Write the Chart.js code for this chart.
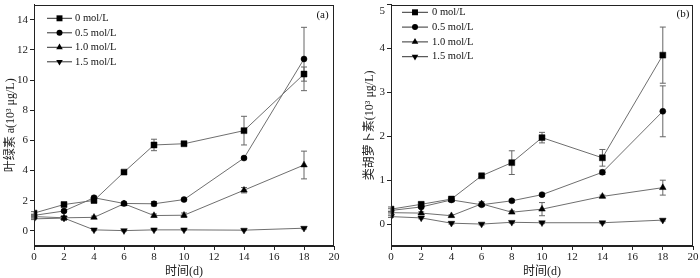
<!DOCTYPE html>
<html>
<head>
<meta charset="utf-8">
<script src="https://cdn.jsdelivr.net/npm/chart.js@4.4.1/dist/chart.umd.min.js"></script>
<style>
    body { margin: 0; background: #fff; }
    .wrap { display: flex; width: 700px; height: 278px; }
    canvas { display: block; }
</style>
</head>
<body>
<div class="wrap">
    <canvas id="chart-a" width="350" height="278"></canvas>
    <canvas id="chart-b" width="350" height="278"></canvas>
</div>
<script>
const days = [0, 2, 4, 6, 8, 10, 14, 18];
const seriesNames = ['0 mol/L', '0.5 mol/L', '1.0 mol/L', '1.5 mol/L'];

// (a) chlorophyll a
const chl0 = [1.18, 1.75, 2.02, 3.9, 5.7, 5.78, 6.65, 10.4];
const chl05 = [1.03, 1.32, 2.2, 1.82, 1.8, 2.08, 4.83, 11.4];
const chl10 = [0.95, 0.87, 0.9, 1.8, 1.02, 1.04, 2.7, 4.37];
const chl15 = [0.8, 0.85, 0.07, 0.02, 0.07, 0.07, 0.05, 0.18];
const chl0Err = [0.1, 0.08, 0.15, 0.08, 0.38, 0.08, 0.95, 0.47];
const chl05Err = [0.08, 0.08, 0.1, 0.08, 0.15, 0.08, 0.08, 2.1];
const chl10Err = [0.08, 0.08, 0.08, 0.1, 0.1, 0.15, 0.18, 0.92];
const chl15Err = [0.05, 0.15, 0.05, 0.03, 0.03, 0.03, 0.03, 0.05];

// (b) carotenoids
const car0 = [0.34, 0.45, 0.57, 1.1, 1.4, 1.97, 1.51, 3.85];
const car05 = [0.31, 0.39, 0.55, 0.44, 0.53, 0.67, 1.18, 2.57];
const car10 = [0.26, 0.25, 0.19, 0.46, 0.27, 0.34, 0.63, 0.83];
const car15 = [0.17, 0.14, 0.02, 0.0, 0.04, 0.03, 0.03, 0.09];
const car0Err = [0.05, 0.04, 0.03, 0.03, 0.27, 0.12, 0.19, 0.64];
const car05Err = [0.04, 0.03, 0.03, 0.03, 0.03, 0.03, 0.05, 0.58];
const car10Err = [0.03, 0.03, 0.02, 0.05, 0.03, 0.15, 0.03, 0.17];
const car15Err = [0.02, 0.02, 0.02, 0.02, 0.02, 0.02, 0.02, 0.02];

const dayTicks = [0, 2, 4, 6, 8, 10, 12, 14, 16, 18, 20];
const chlTicks = [0, 2, 4, 6, 8, 10, 12, 14];
const carTicks = [0, 1, 2, 3, 4, 5];

const serif = "'Liberation Serif', 'Times New Roman', serif";
const cjk = "'Liberation Serif', 'Noto Sans CJK SC', serif";
const lineGray = '#6f6f6f';
const markers = [
    { pointStyle: 'rect', radius: 4.2, rotation: 0 },
    { pointStyle: 'circle', radius: 3, rotation: 0 },
    { pointStyle: 'triangle', radius: 3.8, rotation: 0 },
    { pointStyle: 'triangle', radius: 3.8, rotation: 180 }
];

function buildDatasets(values, errors) {
    return values.map(function(vals, i) {
        return {
            label: seriesNames[i],
            data: days.map(function(d, j) { return { x: d, y: vals[j] }; }),
            errorBars: errors[i],
            borderColor: lineGray,
            borderWidth: 1,
            pointStyle: markers[i].pointStyle,
            pointRadius: markers[i].radius,
            pointRotation: markers[i].rotation,
            pointBackgroundColor: '#000',
            pointBorderColor: '#000',
            pointBorderWidth: 0.5,
            tension: 0
        };
    });
}

const errorBarPlugin = {
    id: 'errorBars',
    beforeDatasetsDraw(chart) {
        const ctx = chart.ctx;
        const yScale = chart.scales.y;
        ctx.save();
        ctx.strokeStyle = '#666';
        ctx.lineWidth = 1;
        chart.data.datasets.forEach(function(ds, i) {
            const meta = chart.getDatasetMeta(i);
            meta.data.forEach(function(pt, j) {
                const err = ds.errorBars[j];
                if (!err) return;
                const v = ds.data[j].y;
                const top = yScale.getPixelForValue(v + err);
                const bot = yScale.getPixelForValue(v - err);
                ctx.beginPath();
                ctx.moveTo(pt.x, top);
                ctx.lineTo(pt.x, bot);
                ctx.moveTo(pt.x - 3, top);
                ctx.lineTo(pt.x + 3, top);
                ctx.moveTo(pt.x - 3, bot);
                ctx.lineTo(pt.x + 3, bot);
                ctx.stroke();
            });
        });
        ctx.restore();
    }
};

const framePlugin = {
    id: 'frameAndLegend',
    afterDraw(chart, args, opts) {
        const ctx = chart.ctx;
        const area = chart.chartArea;
        ctx.save();
        ctx.strokeStyle = '#222';
        ctx.lineWidth = 1;
        ctx.strokeRect(Math.round(area.left) + 0.5, Math.round(area.top) + 0.5,
            Math.round(area.right - area.left) - 1, Math.round(area.bottom - area.top) - 1);

        // legend
        ctx.font = '10.5px ' + serif;
        ctx.textBaseline = 'middle';
        ctx.textAlign = 'left';
        chart.data.datasets.forEach(function(ds, i) {
            const y = opts.legendY + i * opts.legendGap;
            ctx.strokeStyle = '#333';
            ctx.beginPath();
            ctx.moveTo(opts.legendX1, y);
            ctx.lineTo(opts.legendX2, y);
            ctx.stroke();
            ctx.fillStyle = '#000';
            ctx.strokeStyle = '#000';
            Chart.helpers.drawPoint(ctx, {
                pointStyle: markers[i].pointStyle,
                radius: markers[i].radius,
                rotation: markers[i].rotation,
                borderWidth: 0
            }, (opts.legendX1 + opts.legendX2) / 2, y);
            ctx.fillStyle = '#111';
            ctx.fillText(ds.label, opts.legendTextX, y);
        });

        ctx.font = '11px ' + serif;
        ctx.textAlign = 'center';
        ctx.fillText(opts.panelLabel, opts.panelX, opts.panelY);
        ctx.restore();
    }
};

function makeChart(id, values, errors, yMin, yMax, yTicks, yTitle, layout) {
    return new Chart(document.getElementById(id), {
        type: 'line',
        data: { datasets: buildDatasets(values, errors) },
        plugins: [errorBarPlugin, framePlugin],
        options: {
            responsive: false,
            animation: false,
            layout: { padding: { left: 0, right: layout.right, top: layout.top, bottom: 0 } },
            plugins: {
                legend: { display: false },
                tooltip: { enabled: false },
                frameAndLegend: layout.legend
            },
            scales: {
                x: {
                    type: 'linear',
                    min: 0,
                    max: 20,
                    afterBuildTicks: function(scale) {
                        scale.ticks = dayTicks.map(function(v) { return { value: v }; });
                    },
                    afterFit: function(scale) {
                        scale.height = 32;
                        scale.paddingLeft = 0;
                        scale.paddingRight = 0;
                    },
                    grid: { drawOnChartArea: false, drawTicks: true, tickLength: 4, color: '#222' },
                    border: { display: true, color: '#222' },
                    ticks: { font: { family: serif, size: 11 }, color: '#222', padding: 1, maxRotation: 0 },
                    title: {
                        display: true,
                        text: '时间(d)',
                        font: { family: cjk, size: 12, lineHeight: 1 },
                        color: '#222',
                        padding: { top: 0, bottom: 0 }
                    }
                },
                y: {
                    type: 'linear',
                    min: yMin,
                    max: yMax,
                    afterBuildTicks: function(scale) {
                        scale.ticks = yTicks.map(function(v) { return { value: v }; });
                    },
                    afterFit: function(scale) {
                        scale.width = layout.axisWidth;
                        scale.paddingTop = 0;
                        scale.paddingBottom = 0;
                    },
                    grid: { drawOnChartArea: false, drawTicks: true, tickLength: 4, color: '#222' },
                    border: { display: true, color: '#222' },
                    ticks: {
                        font: { family: serif, size: 11 },
                        color: '#222',
                        padding: 2,
                        callback: function(v) {
                            return v === yMax ? ['', String(v)] : String(v);
                        }
                    },
                    title: {
                        display: true,
                        text: yTitle,
                        font: { family: cjk, size: 12, lineHeight: 1 },
                        color: '#222',
                        padding: { top: layout.titlePad, bottom: 0 }
                    }
                }
            }
        }
    });
}

makeChart('chart-a', [chl0, chl05, chl10, chl15], [chl0Err, chl05Err, chl10Err, chl15Err],
    -1, 15, chlTicks, '叶绿素 a(10³ μg/L)', {
        right: 16, top: 4, axisWidth: 34, titlePad: 5,
        legend: { legendX1: 47, legendX2: 72, legendTextX: 75, legendY: 18.3, legendGap: 14.5,
                  panelLabel: '(a)', panelX: 322.5, panelY: 15 }
    });

makeChart('chart-b', [car0, car05, car10, car15], [car0Err, car05Err, car10Err, car15Err],
    -0.5, 5, carTicks, '类胡萝卜素(10³ μg/L)', {
        right: 7, top: 1, axisWidth: 41, titlePad: 14,
        legend: { legendX1: 52, legendX2: 78, legendTextX: 82, legendY: 12.3, legendGap: 14.8,
                  panelLabel: '(b)', panelX: 333, panelY: 14 }
    });
</script>
</body>
</html>
